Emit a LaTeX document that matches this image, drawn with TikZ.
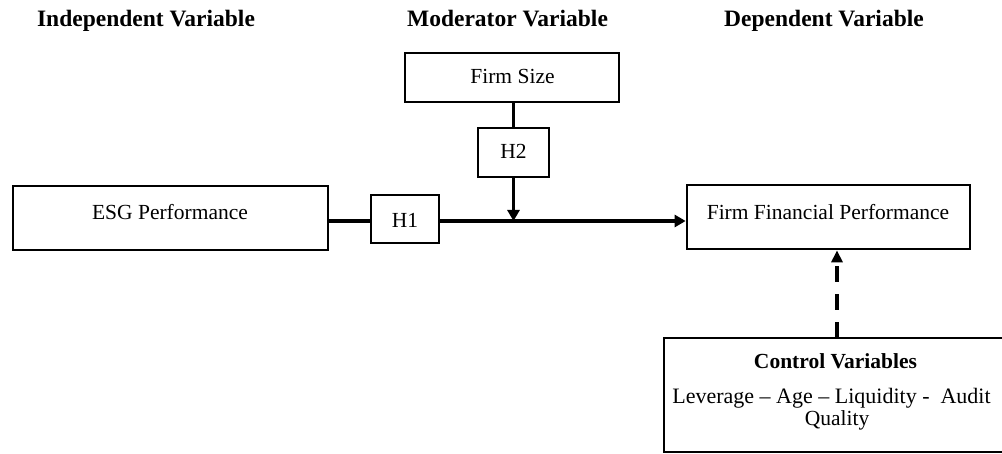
\documentclass[tikz,border=0pt]{standalone}
\usepackage{fontspec}
\setmainfont{Liberation Serif}
\usetikzlibrary{arrows.meta}
\begin{document}
\begin{tikzpicture}[x=1pt,y=-1pt,
  box/.style={draw, line width=2.7pt, inner sep=0pt},
  lbl/.style={inner sep=0pt, anchor=base, font=\fontsize{21.5}{25}\selectfont},
  head/.style={inner sep=0pt, anchor=base, font=\fontsize{23.5}{28}\selectfont\bfseries},
  conn/.style={line width=3.3pt},
  tip/.style={-{Triangle[length=11pt,width=12pt]}},
  dashtip/.style={-{Triangle[length=12pt,width=11pt]}, dash pattern=on 16pt off 12pt}
]
\useasboundingbox (0,0) rectangle (1002,454);

% column headings
\node[head] (hind) at (146,27) {Independent Variable};
\node[head] (hmod) at (507.5,27) {Moderator Variable};
\node[head] (hdep) at (824,27) {Dependent Variable};

% boxes and their texts
\node[box, minimum width=315pt, minimum height=64pt] (esg) at (170.5,218) {};
\node[lbl] (esgtxt) at (170,220) {ESG Performance};

\node[box, minimum width=68pt, minimum height=48pt] (h1) at (405,219) {};
\node[lbl] (h1txt) at (405,228) {H1};

\node[box, minimum width=214pt, minimum height=49pt] (fs) at (512,77.5) {};
\node[lbl] (fstxt) at (512.5,84) {Firm Size};

\node[box, minimum width=71pt, minimum height=49pt] (h2) at (513.5,152.5) {};
\node[lbl] (h2txt) at (513.5,159) {H2};

\node[box, minimum width=283pt, minimum height=64pt] (ffp) at (828.5,217) {};
\node[lbl] (ffptxt) at (828,220) {Firm Financial Performance};

\node[box, minimum width=340pt, minimum height=114pt] (ctrl) at (834,395) {};
\node[lbl, font=\fontsize{21.5}{25}\selectfont\bfseries] (ctrltitle) at (835.5,369) {Control Variables};
\node[lbl, font=\fontsize{22}{25}\selectfont] (ctrlline1) at (831.5,404) {Leverage -- Age -- Liquidity -~ Audit};
\node[lbl] (ctrlline2) at (837,425) {Quality};

% connectors
\coordinate (join) at (h2.south |- 0,221);
\draw[conn] (esg.east |- join) -- (h1.west |- join);
\draw[conn, tip] (h1.east |- join) -- (ffp.west |- join);
\draw[conn] (h2.north |- fs.south) -- (h2.north);
\draw[conn, tip] (h2.south) -- (join);
\coordinate (ctrltop) at (837,338);
\draw[conn, dashtip] (ctrltop) -- (ctrltop |- ffp.south);
\end{tikzpicture}
\end{document}
